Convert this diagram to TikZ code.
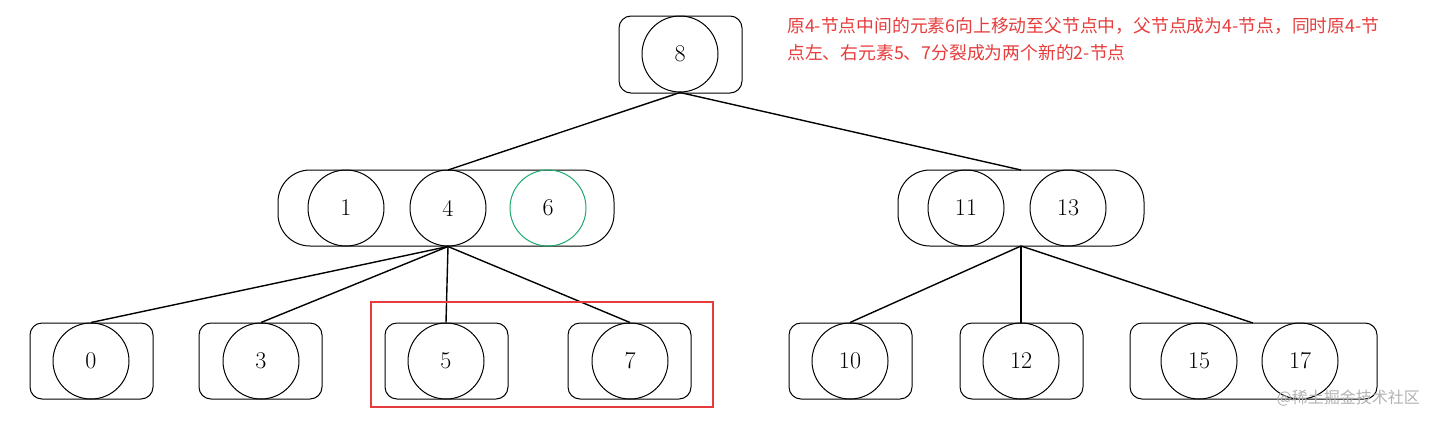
\documentclass[tikz,border=0pt]{standalone}
\usepackage{fontspec}
\newfontfamily\cjk{Noto Sans CJK SC}
\begin{document}
\begin{tikzpicture}[x=1pt,y=-1pt,
  box/.style={draw,line width=1pt,rounded corners=12pt},
  wbox/.style={draw,line width=1pt,rounded corners=32pt},
  el/.style={draw,line width=1pt,circle,minimum size=76pt,inner sep=0pt,font=\fontsize{24}{24}\selectfont},
  edge/.style={draw,line width=1.4pt}]
\useasboundingbox (0,0) rectangle (1431,421);
% top
\draw[box] (619,16) rectangle (742,93);
\node[el] (n8) at (680,54) {8};
% middle
\draw[wbox] (278,170) rectangle (614,246);
\node[el] (n1) at (346,208) {1};
\node[el] (n4) at (448,208) {4};
\node[el,draw={rgb,255:red,30;green,170;blue,110}] (n6) at (548,208) {6};
\draw[wbox] (898,170) rectangle (1144,246);
\node[el] (n11) at (966,208) {11};
\node[el] (n13) at (1068,208) {13};
\coordinate (ml) at (448,170);
\coordinate (mr) at (1021,170);
\coordinate (mrb) at (1021,246);
% bottom
\draw[box] (30,323) rectangle (153,399);
\node[el] (n0) at (91,361) {0};
\draw[box] (199,323) rectangle (322,399);
\node[el] (n3) at (261,361) {3};
\draw[box] (385,323) rectangle (508,399);
\node[el] (n5) at (446,361) {5};
\draw[box] (568,323) rectangle (691,399);
\node[el] (n7) at (630,361) {7};
\draw[box] (789,323) rectangle (912,399);
\node[el] (n10) at (850,361) {10};
\draw[box] (960,323) rectangle (1083,399);
\node[el] (n12) at (1021,361) {12};
\draw[box] (1130,323) rectangle (1377,399);
\node[el] (n15) at (1199,361) {15};
\node[el] (n17) at (1300,361) {17};
\coordinate (b17) at (1253,323);
% edges
\draw[edge] (n8.south) -- (ml);
\draw[edge] (n8.south) -- (mr);
\draw[edge] (n4.south) -- (n0.north);
\draw[edge] (n4.south) -- (n3.north);
\draw[edge] (n4.south) -- (n5.north);
\draw[edge] (n4.south) -- (n7.north);
\draw[edge] (mrb) -- (n10.north);
\draw[edge] (mrb) -- (n12.north);
\draw[edge] (mrb) -- (b17);
% red box
\draw[draw={rgb,255:red,230;green,60;blue,60},line width=2.2pt] (371,302) rectangle (713,407);
\node[anchor=north west,align=left,inner sep=0pt,text={rgb,255:red,230;green,60;blue,60},font=\cjk\fontsize{17.8}{27}\selectfont] (txt) at (787,17)
 {原4-节点中间的元素6向上移动至父节点中，父节点成为4-节点，同时原4-节\\点左、右元素5、7分裂成为两个新的2-节点};
\node[anchor=east,inner sep=0pt,text=gray!60,font=\cjk\fontsize{16}{16}\selectfont] (wm) at (1420,398) {@稀土掘金技术社区};
\end{tikzpicture}
\end{document}
